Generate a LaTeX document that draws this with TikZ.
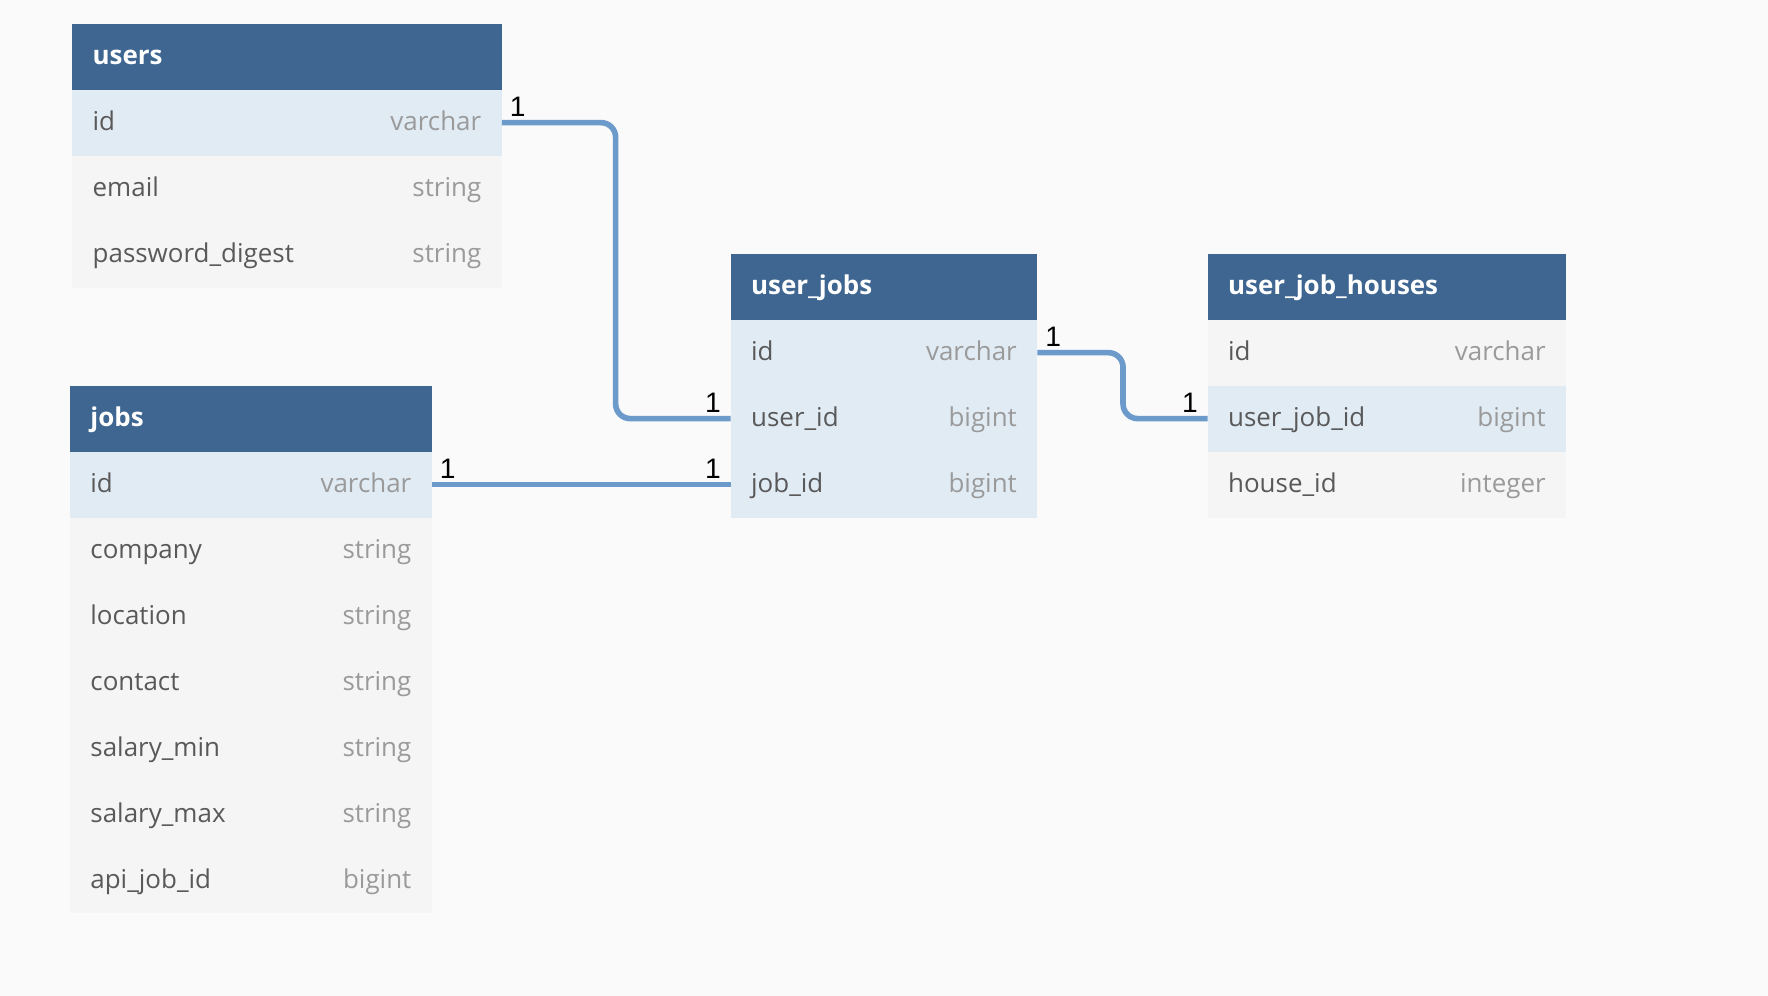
\documentclass[tikz,border=0pt]{standalone}
\usepackage{fontspec}
\setmainfont{Open Sans}
\newfontfamily\cardfont{Liberation Sans}
\definecolor{bgc}{HTML}{FAFAFA}
\definecolor{headc}{HTML}{3E6690}
\definecolor{rowhl}{HTML}{E1EBF4}
\definecolor{rowgr}{HTML}{F5F5F5}
\definecolor{linkc}{HTML}{6C9ACB}
\definecolor{fieldc}{HTML}{595959}
\definecolor{typec}{HTML}{9A9A9A}
\tikzset{
  headbox/.style={fill=headc, draw=none, minimum height=58.5pt, inner sep=0pt, outer sep=0pt},
  rowh/.style={fill=rowhl, draw=none, minimum height=58.5pt, inner sep=0pt, outer sep=0pt},
  rowg/.style={fill=rowgr, draw=none, minimum height=58.5pt, inner sep=0pt, outer sep=0pt},
  headtxt/.style={text=white, font=\fontsize{23}{27}\selectfont\bfseries, inner sep=0pt, anchor=base west},
  fieldtxt/.style={text=fieldc, font=\fontsize{23}{27}\selectfont, inner sep=0pt, anchor=base west},
  typetxt/.style={text=typec, font=\fontsize{23}{27}\selectfont, inner sep=0pt, anchor=base east},
  card/.style={text=black, font=\cardfont\fontsize{25}{28}\selectfont, inner sep=0pt},
  link/.style={draw=linkc, line width=5pt, rounded corners=13pt}
}
\newcommand{\tbhead}[5]{%
  \node[headbox, minimum width=#4pt, anchor=north west] (#1) at (#2,#3) {};
  \node[headtxt] (#1-t) at ([xshift=18pt,yshift=-7pt]#1.west) {#5};}
\newcommand{\tbrow}[7]{%
  \node[#5, minimum width=#4pt, anchor=north west] (#1) at (#2,#3) {};
  \node[fieldtxt] (#1-f) at ([xshift=18pt,yshift=-7pt]#1.west) {#6};
  \node[typetxt] (#1-y) at ([xshift=-18pt,yshift=-7pt]#1.east) {#7};}
\begin{document}
\begin{tikzpicture}[x=1pt,y=-1pt]
\fill[bgc] (0,0) rectangle (1568,883);
\useasboundingbox (0,0) rectangle (1568,883);
% users
\tbhead{users}{64}{21}{381}{users}
\tbrow{users-id}{64}{79.5}{381}{rowh}{id}{varchar}
\tbrow{users-email}{64}{138}{381}{rowg}{email}{string}
\tbrow{users-pw}{64}{196.5}{381}{rowg}{password\_digest}{string}
% jobs
\tbhead{jobs}{62}{342}{321}{jobs}
\tbrow{jobs-id}{62}{400.5}{321}{rowh}{id}{varchar}
\tbrow{jobs-company}{62}{459}{321}{rowg}{company}{string}
\tbrow{jobs-location}{62}{517.5}{321}{rowg}{location}{string}
\tbrow{jobs-contact}{62}{576}{321}{rowg}{contact}{string}
\tbrow{jobs-smin}{62}{634.5}{321}{rowg}{salary\_min}{string}
\tbrow{jobs-smax}{62}{693}{321}{rowg}{salary\_max}{string}
\tbrow{jobs-api}{62}{751.5}{321}{rowg}{api\_job\_id}{bigint}
% user_jobs
\tbhead{uj}{648}{225}{272}{user\_jobs}
\tbrow{uj-id}{648}{283.5}{272}{rowh}{id}{varchar}
\tbrow{uj-uid}{648}{342}{272}{rowh}{user\_id}{bigint}
\tbrow{uj-jid}{648}{400.5}{272}{rowh}{job\_id}{bigint}
% user_job_houses
\tbhead{ujh}{1071}{225}{318}{user\_job\_houses}
\tbrow{ujh-id}{1071}{283.5}{318}{rowg}{id}{varchar}
\tbrow{ujh-ujid}{1071}{342}{318}{rowh}{user\_job\_id}{bigint}
\tbrow{ujh-hid}{1071}{400.5}{318}{rowg}{house\_id}{integer}
% connectors
\draw[link] (users-id.east) -| (546,0 |- uj-uid.west) -- (uj-uid.west);
\draw[link] (jobs-id.east) -- (uj-jid.west);
\draw[link] (uj-id.east) -- (996,0 |- uj-id.east) |- (ujh-ujid.west);
% cardinalities
\node[card, anchor=south west] (c1) at ([xshift=7pt,yshift=5pt]users-id.east) {1};
\node[card, anchor=south east] (c2) at ([xshift=-8.5pt,yshift=5pt]uj-uid.west) {1};
\node[card, anchor=south west] (c3) at ([xshift=7pt,yshift=5pt]jobs-id.east) {1};
\node[card, anchor=south east] (c4) at ([xshift=-8.5pt,yshift=5pt]uj-jid.west) {1};
\node[card, anchor=south west] (c5) at ([xshift=7pt,yshift=5pt]uj-id.east) {1};
\node[card, anchor=south east] (c6) at ([xshift=-8.5pt,yshift=5pt]ujh-ujid.west) {1};
\end{tikzpicture}
\end{document}
